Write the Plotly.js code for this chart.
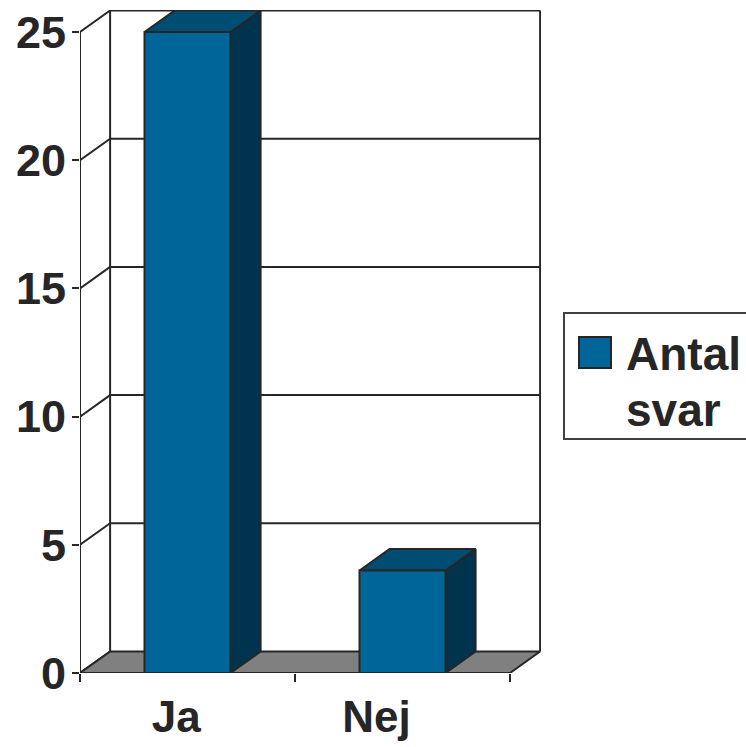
<!DOCTYPE html>
<html>
<head>
<meta charset="utf-8">
<script src="https://cdn.plot.ly/plotly-3.0.1.min.js"></script>
<style>html,body{margin:0;padding:0;background:#fff;}#chart{width:746px;height:747px;}</style>
</head>
<body>
<div id="chart"></div>
<script>
// ---- data ----
const categories = ['Ja', 'Nej'];
const antalSvar = [25, 4];
const seriesName = 'Antal svar';
const yTickValues = [0, 5, 10, 15, 20, 25];

// ---- style / geometry (not data) ----
const W = 746, H = 747;
const M = {l: 80, r: 205, t: 10, b: 74};
const DX = 0.14;      // depth offset in x units
const DY = 0.84;      // depth offset in y units
const BARW = 0.4;
const EDGE = '#262626';
const FRONT = '#006699', TOP = '#004d73', SIDE = '#00334d', FLOOR = '#808080';
const FONT = 'Liberation Sans, Arial, sans-serif';
const yMax = yTickValues[yTickValues.length - 1];
const x0 = -0.5, x1 = categories.length - 0.5;

const traces = [];
function addLines(xs, ys, w) {
  traces.push({type: 'scatter', mode: 'lines', x: xs, y: ys, cliponaxis: false,
    line: {color: EDGE, width: w || 2}, hoverinfo: 'skip', showlegend: false});
}
function addPoly(xs, ys, fill) {
  traces.push({type: 'scatter', mode: 'lines', x: xs, y: ys, fill: 'toself', fillcolor: fill,
    cliponaxis: false, line: {color: EDGE, width: 2}, hoverinfo: 'skip', showlegend: false});
}

// walls: back gridlines, left wall diagonals, back verticals
{
  const xs = [], ys = [];
  yTickValues.forEach(v => {
    if (v > 0) { xs.push(x0 + DX, x1 + DX, null); ys.push(v + DY, v + DY, null); }
    xs.push(x0, x0 + DX, null); ys.push(v, v + DY, null);
  });
  xs.push(x0 + DX, x0 + DX, null); ys.push(DY, yMax + DY, null);
  xs.push(x1 + DX, x1 + DX, null); ys.push(DY, yMax + DY, null);
  xs.push(x0, x0); ys.push(0, yMax);
  addLines(xs, ys, 2);
}
// floor
addPoly([x0, x1, x1 + DX, x0 + DX, x0], [0, 0, DY, DY, 0], FLOOR);

// bars
antalSvar.forEach((v, i) => {
  const a = i - BARW / 2, b = i + BARW / 2;
  addPoly([b, b, b + DX, b + DX, b], [0, v, v + DY, DY, 0], SIDE);
  addPoly([a, a + DX, b + DX, b, a], [v, v + DY, v + DY, v, v], TOP);
  addPoly([a, a, b, b, a], [0, v, v, 0, 0], FRONT);
});

const plotW = W - M.l - M.r, plotH = H - M.t - M.b;
const xUnit = 430 / categories.length; // px per category on front plane
const xRange = [x0, x0 + plotW / xUnit];
const yRange = [0, yMax + 0.86];
function px(xp) { return (xp - M.l) / plotW; }
function py(yp) { return (H - M.b - yp) / plotH; }

const labelShift = [-0.052, -0.121];
const layout = {
  width: W, height: H, autosize: false,
  margin: M,
  paper_bgcolor: '#fff', plot_bgcolor: 'rgba(0,0,0,0)',
  showlegend: false, hovermode: false,
  xaxis: {
    range: xRange, fixedrange: true,
    tickmode: 'array',
    tickvals: categories.map((c, i) => i + labelShift[i]),
    ticktext: categories,
    ticks: '', showgrid: false, zeroline: false, showline: false,
    tickfont: {family: FONT, size: 44, color: EDGE, weight: 700},
    ticklabelstandoff: 14,
    minor: {tickmode: 'array', tickvals: categories.map((c, i) => i - 0.5).concat([x1]),
      ticks: 'outside', ticklen: 8, tickwidth: 2, tickcolor: EDGE, showgrid: false}
  },
  yaxis: {
    range: yRange, fixedrange: true,
    tickmode: 'array', tickvals: yTickValues,
    ticks: 'outside', ticklen: 7, tickwidth: 2, tickcolor: EDGE,
    showgrid: false, zeroline: false, showline: false,
    tickfont: {family: FONT, size: 45, color: EDGE, weight: 700},
    ticklabelstandoff: -3
  },
  shapes: [
    {type: 'rect', xref: 'paper', yref: 'paper', x0: px(564), x1: px(770), y0: py(439), y1: py(313),
      line: {color: '#404040', width: 2}, fillcolor: 'rgba(0,0,0,0)'},
    {type: 'rect', xref: 'paper', yref: 'paper', x0: px(579), x1: px(611), y0: py(368), y1: py(337),
      line: {color: EDGE, width: 2}, fillcolor: FRONT}
  ],
  annotations: [
    {xref: 'paper', yref: 'paper', x: px(624), y: py(354), xanchor: 'left', yanchor: 'middle',
      text: seriesName.split(' ')[0], showarrow: false,
      font: {family: FONT, size: 46, color: EDGE, weight: 700}},
    {xref: 'paper', yref: 'paper', x: px(624), y: py(410), xanchor: 'left', yanchor: 'middle',
      text: seriesName.split(' ')[1], showarrow: false,
      font: {family: FONT, size: 46, color: EDGE, weight: 700}}
  ]
};

Plotly.newPlot('chart', traces, layout, {staticPlot: true, displayModeBar: false});
</script>
</body>
</html>
